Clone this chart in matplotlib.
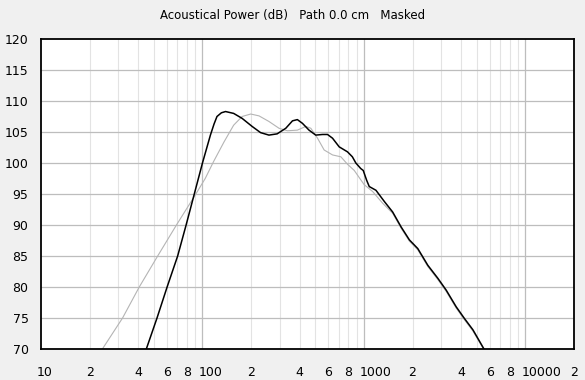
import numpy as np
import matplotlib
matplotlib.use("Agg")
import matplotlib.pyplot as plt
import matplotlib.transforms as mtransforms

# Curva negra (respuesta medida): frecuencia (Hz) y nivel (dB)
black_freq = [44.9, 52.3, 60.4, 70.2, 79.2, 89, 100, 112, 118, 123, 131, 139, 156,
              176, 203, 229, 258, 290, 328, 361, 387, 416, 457, 503, 554, 595, 639,
              703, 791, 848, 891, 956, 990, 1040, 1079, 1187, 1337, 1506, 1698,
              1912, 2155, 2487, 2870, 3231, 3728, 4198, 4730, 5540]
black_db = [70, 75, 80, 85, 90, 95, 100, 104.5, 106.3, 107.5, 108.1, 108.3, 108.0,
            107.2, 105.9, 104.9, 104.5, 104.7, 105.6, 106.8, 107.0, 106.4, 105.3,
            104.5, 104.6, 104.6, 104.0, 102.6, 101.8, 101.0, 100.0, 99.1, 98.8,
            97.2, 96.2, 95.6, 93.8, 92.1, 89.7, 87.6, 86.2, 83.5, 81.4, 79.5,
            76.8, 74.9, 73.1, 70]

# Curva gris (objetivo)
gray_freq = [24, 32, 40.6, 52.8, 69, 91, 104, 117, 136, 156, 176, 199, 224, 258,
             298, 336, 387, 437, 469, 516, 567, 639, 720, 791, 871, 1004, 1132,
             1307, 1506, 1698, 1912, 2155, 2487, 2870, 3231, 3728, 4198, 4730, 5500]
gray_db = [70, 75, 80, 85, 90, 95, 97.5, 100.2, 103.4, 106.1, 107.5, 107.9, 107.6,
           106.7, 105.6, 105.2, 105.3, 105.9, 105.6, 104.0, 102.1, 101.3, 101.0,
           99.8, 98.8, 96.5, 95.4, 93.5, 91.9, 89.5, 87.4, 86.0, 83.3, 81.2, 79.3,
           76.6, 74.7, 72.9, 70]

# Ejes
tick_freq = [10, 20, 40, 60, 80, 100, 200, 400, 600, 800, 1000, 2000, 4000,
             6000, 8000, 10000, 20000]
tick_text = ["10", "2", "4", "6", "8", "100", "2", "4", "6", "8", "1000", "2",
             "4", "6", "8", "10000", "2"]
db_ticks = [70, 75, 80, 85, 90, 95, 100, 105, 110, 115, 120]
title = "Acoustical Power (dB)   Path 0.0 cm   Masked"

plt.rcParams['font.family'] = 'DejaVu Sans'

fig = plt.figure(figsize=(5.85, 3.8), dpi=100, facecolor='#f0f0f0')
ax = fig.add_axes([41/585, 1 - 349/380, (574 - 41)/585, (349 - 39)/380])
ax.set_facecolor('white')

# Rejilla
for dec in [10, 100, 1000, 10000]:
    for m in range(2, 10):
        f = dec * m
        if f < 20000:
            ax.axvline(f, color='#e3e3e3', lw=0.8, zorder=0)
for f in [100, 1000, 10000]:
    ax.axvline(f, color='#bdbdbd', lw=0.9, zorder=0)
for v in db_ticks[1:-1]:
    ax.axhline(v, color='#bdbdbd', lw=0.9, zorder=0)

ax.plot(gray_freq, gray_db, color='#b4b4b4', lw=0.8, zorder=2)
ax.plot(black_freq, black_db, color='black', lw=1.1, zorder=3)

ax.set_xscale('log')
ax.set_xlim(10, 20000)
ax.set_ylim(70, 120)
ax.minorticks_off()
ax.set_xticks(tick_freq)
ax.set_xticklabels(tick_text)
ax.set_yticks(db_ticks)
ax.tick_params(length=0, labelsize=9, colors='black')
ax.tick_params(axis='x', pad=12)
ax.tick_params(axis='y', pad=9)

# Etiquetas de década alineadas a la izquierda
shift = mtransforms.ScaledTranslation(-4/100, 0, fig.dpi_scale_trans)
for lab in ax.get_xticklabels():
    if len(lab.get_text()) > 1:
        lab.set_ha('left')
        lab.set_transform(lab.get_transform() + shift)

for s in ax.spines.values():
    s.set_linewidth(1.3)
    s.set_color('black')

fig.text(0.5, 1 - 16/380, title, ha='center', va='center', fontsize=8.5,
         color='black')

fig.savefig('out.png', dpi=100, facecolor=fig.get_facecolor())
